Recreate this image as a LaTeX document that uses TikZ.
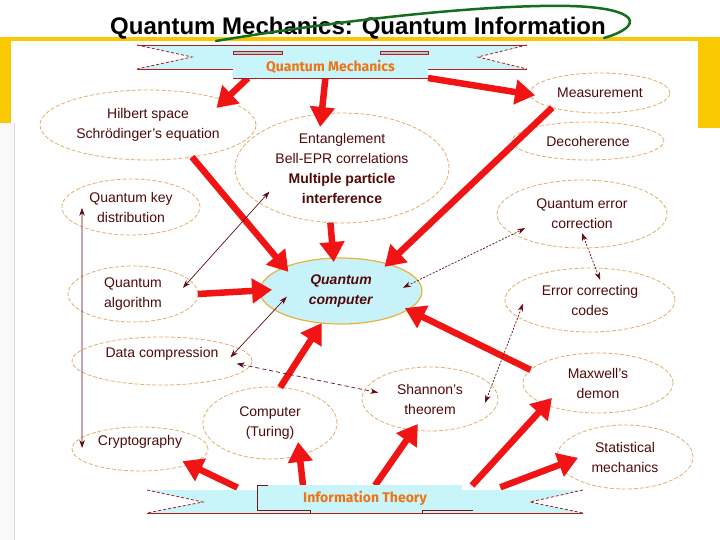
\documentclass[tikz,border=0pt]{standalone}
\usepackage{fontspec}
\setmainfont{Liberation Sans}
\newfontfamily\ribfont{Fira Sans}
\usetikzlibrary{arrows.meta,shapes.geometric,calc}
\definecolor{arr}{RGB}{240,20,20}
\definecolor{thinc}{RGB}{100,10,20}
\definecolor{txt}{RGB}{80,10,10}
\definecolor{ell}{RGB}{225,175,110}
\definecolor{rib}{RGB}{200,245,250}
\definecolor{ribred}{RGB}{170,30,30}
\definecolor{ribtxt}{RGB}{240,115,20}
\definecolor{gold}{RGB}{250,200,0}
\definecolor{grn}{RGB}{20,110,30}
\definecolor{qcfill}{RGB}{200,242,250}
\definecolor{qcline}{RGB}{230,180,60}
\pgfdeclarelayer{front}
\pgfsetlayers{main,front}
\begin{document}
\begin{tikzpicture}[x=1pt,y=-1pt,
  every node/.style={inner sep=0pt,outer sep=0pt},
  txtf/.style={font=\fontsize{14}{20}\selectfont, text=txt, align=center},
  every label/.style={txtf},
  bub/.style 2 args={ellipse, draw=ell, line width=0.8pt, dash pattern=on 4pt off 2pt,
    minimum width=#1pt, minimum height=#2pt, txtf},
  qcst/.style={ellipse, fill=qcfill, draw=qcline, line width=1.2pt,
    minimum width=162pt, minimum height=66pt, txtf},
  big/.style={draw=arr, line width=6.5pt, -{Triangle[length=20pt,width=24pt]}},
  thin/.style={draw=thinc, line width=0.7pt, {Stealth[length=8pt,width=5.5pt]}-{Stealth[length=8pt,width=5.5pt]}},
  dashline/.style={dash pattern=on 4pt off 3pt},
  dotline/.style={dash pattern=on 2pt off 1.5pt},
  ribtext/.style={font=\ribfont\bfseries\fontsize{14}{16}\selectfont, text=ribtxt}]
\useasboundingbox (0,0) rectangle (720,540);
\fill[white] (0,0) rectangle (720,540);
% frame
\fill[gray!5] (0,123) rectangle (14,540);
\draw[gray!30, line width=0.6pt] (14,123) -- (14,540);
\fill[gold] (0,37) rectangle (720,41);
\fill[gold] (0,37) rectangle (11,123);
\fill[gold] (698,37) rectangle (720,128);
% title
\node[font=\bfseries\fontsize{24}{28}\selectfont, text=black] (title) at (358,28) {Quantum Mechanics: Quantum Information};
\draw[grn, line width=2.5pt, line cap=round] (216,41) .. controls (330,22) and (480,4) .. (570,6) .. controls (640,8) and (645,26) .. (604,38);
% nodes
\node[bub={216}{70}] (hilbert) at (148,125) {Hilbert space\\Schrödinger’s equation};
\node[bub={214}{110}] (ent) at (342,168) {Entanglement\\Bell-EPR correlations\\\textbf{Multiple particle}\\\textbf{interference}};
\node[bub={140}{40}] (meas) at (600,93) {Measurement};
\node[bub={152}{38}] (deco) at (588,141) {Decoherence};
\node[bub={170}{68}] (qec) at (582,214) {Quantum error\\correction};
\node[bub={170}{64}] (ecc) at (590,300) {Error correcting\\codes};
\node[bub={138}{56}] (qkd) at (131,207) {Quantum key\\distribution};
\node[bub={130}{56}] (qalg) at (133,294) {Quantum\\algorithm};
\node[bub={180}{48}, label={[yshift=7pt]center:Data compression}] (dc) at (162,361) {};
\node[bub={136}{44}, label={[yshift=7pt]center:Cryptography}] (crypt) at (140,449) {};
\node[bub={134}{72}] (turing) at (270,423) {Computer\\(Turing)};
\node[qcst] (qc) at (341,291) {\textbf{\textit{Quantum}}\\\textbf{\textit{computer}}};
\node[bub={136}{64}] (shannon) at (430,399) {Shannon’s\\theorem};
\node[bub={150}{60}] (maxwell) at (598,383) {Maxwell’s\\demon};
\node[bub={136}{64}] (stat) at (625,457) {Statistical\\mechanics};
% ribbons (front layer)
\begin{pgfonlayer}{front}
\fill[rib] (137,45) -- (527,45) -- (478,57) -- (527,69) -- (137,69) -- (192,57) -- cycle;
\fill[rib] (233,49) rectangle (428,78);
\draw[ribred, line width=0.9pt] (137,45) -- (527,45);
\draw[ribred, line width=0.9pt] (137,69) -- (233,69) (428,69) -- (527,69);
\draw[ribred, line width=0.9pt] (233,78) -- (428,78);
\draw[ribred, line width=0.8pt, dash pattern=on 3pt off 2pt] (137,45) -- (192,57) -- (137,69) (527,45) -- (478,57) -- (527,69);
\filldraw[fill=gray!45, draw=ribred, line width=0.5pt] (233,51) rectangle (282,54) (380,51) rectangle (428,54);
\node[ribtext, minimum width=195pt, minimum height=22pt] (qmb) at (330.5,67) {Quantum Mechanics};
\fill[rib] (147,490) -- (583,490) -- (530,502) -- (583,513) -- (147,513) -- (203,502) -- cycle;
\fill[rib] (257,485) rectangle (462,510);
\draw[ribred, line width=0.9pt] (147,513) -- (583,513);
\draw[ribred, line width=0.8pt, dash pattern=on 3pt off 2pt] (147,490) -- (203,502) -- (147,513) (583,490) -- (530,502) -- (583,513);
\draw[ribred!70!black, line width=0.6pt] (268,485) -- (257,485) -- (257,510) -- (310,510) -- (310,513) (422,513) -- (422,510) -- (473,510);
\node[ribtext, minimum width=200pt, minimum height=25pt] (itb) at (365,498) {Information Theory};
\end{pgfonlayer}
% thick arrows
\draw[big] ($(qmb.south west)!0.077!(qmb.south east)$) -- ($(hilbert)!0.80!(hilbert.14)$);
\draw[big] ($(qmb.south west)!0.474!(qmb.south east)$) -- ($(ent)!0.773!(ent.118)$);
\draw[big] (qmb.south east) -- ($(meas)!0.934!(meas.182)$);
\draw[big] (hilbert.-36) -- ($(qc)!0.871!(qc.160)$);
\draw[big] (ent.-102) -- ($(qc)!0.883!(qc.104)$);
\draw[big] (meas.197) -- ($(qc)!0.908!(qc.29)$);
\draw[big] (qalg.east) -- ($(qc)!0.852!(qc.179)$);
\draw[big] (turing.74) -- (qc.-121);
\draw[big] (maxwell.169) -- ($(qc)!0.943!(qc.-15)$);
\draw[big, shorten <=-5pt] ($(itb.north west)!-0.16!(itb.north east)$) -- ($(crypt)!0.835!(crypt.-16)$);
\draw[big] ($(itb.north west)!0.19!(itb.north east)$) -- ($(turing)!0.674!(turing.-34)$);
\draw[big] ($(itb.north west)!0.55!(itb.north east)$) -- ($(shannon)!0.80!(shannon.-116)$);
\draw[big] ($(itb.north west)!1.035!(itb.north east)$) -- ($(maxwell)!0.791!(maxwell.198)$);
\draw[big, shorten <=-5pt] ($(itb.north west)!1.2!(itb.north east)$) -- ($(stat)!0.691!(stat.181)$);
% thin arrows
\draw[thin] ($(qkd)!0.711!(qkd.181)$) -- ($(crypt)!0.853!(crypt.179)$);
\draw[thin] ($(qalg)!0.799!(qalg.7)$) -- ($(ent)!0.802!(ent.198)$);
\draw[thin] ($(qc)!0.691!(qc.186)$) -- ($(dc)!0.774!(dc.3)$);
\draw[thin, dashline] ($(dc)!0.837!(dc.-2)$) -- ($(shannon)!0.787!(shannon.173)$);
\draw[thin, dotline] ($(qc)!0.771!(qc.3)$) -- ($(qec)!0.787!(qec.194)$);
\draw[thin, dotline] ($(qec)!0.559!(qec.-90)$) -- ($(ecc)!0.636!(ecc.63)$);
\draw[thin, dotline] ($(ecc)!0.794!(ecc.183)$) -- ($(shannon)!0.819!(shannon.-4)$);
\end{tikzpicture}
\end{document}
